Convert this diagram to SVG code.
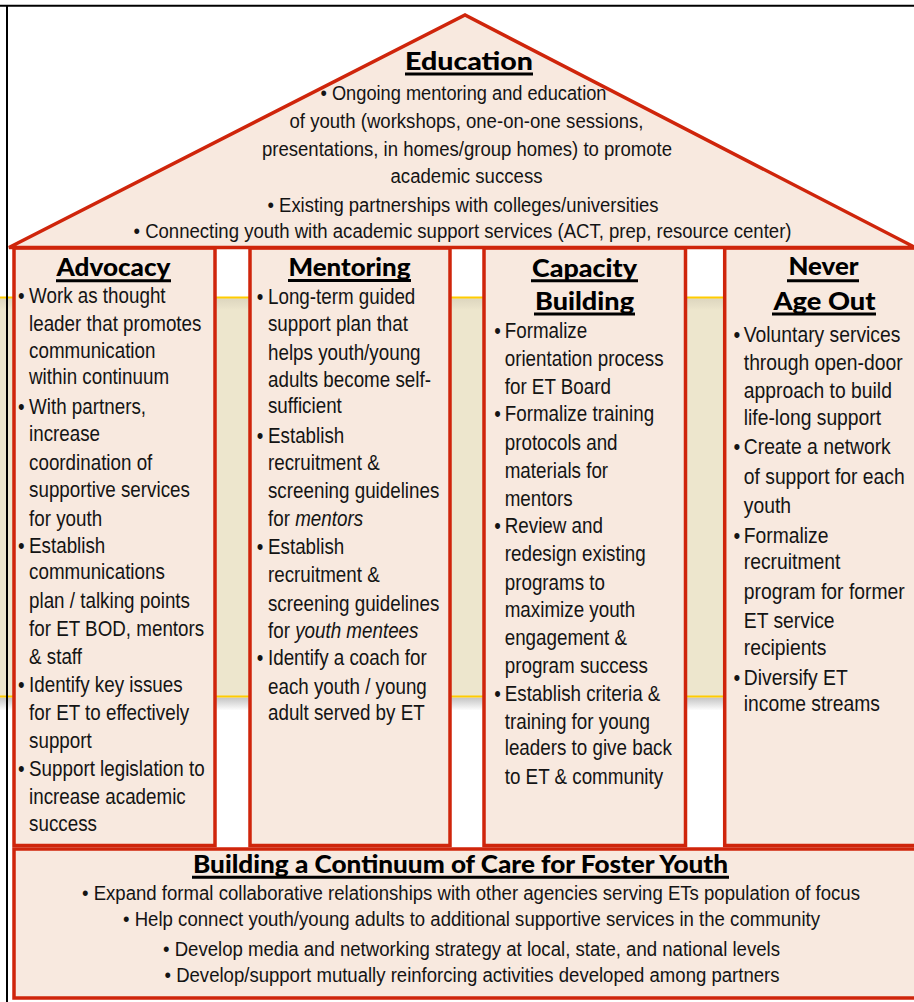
<svg xmlns="http://www.w3.org/2000/svg" width="914" height="1002" viewBox="0 0 914 1002">
<defs>
<linearGradient id="shadow" x1="0" y1="0" x2="0" y2="1">
<stop offset="0" stop-color="#c4c4c4"/>
<stop offset="1" stop-color="#ffffff"/>
</linearGradient>
<linearGradient id="bandTop" x1="0" y1="0" x2="0" y2="1">
<stop offset="0" stop-color="#ddd6bf"/>
<stop offset="1" stop-color="#ede6cd"/>
</linearGradient>
<style>
.box{fill:#f8e9df;stroke:#cf250b;stroke-width:3.5}
.body{font-family:"Liberation Sans",Arial,sans-serif;font-size:22px;fill:#141414}
.roof{font-family:"Liberation Sans",Arial,sans-serif;font-size:20px;fill:#141414;text-anchor:middle}
.foot{font-family:"Liberation Sans",Arial,sans-serif;font-size:19.5px;fill:#141414;text-anchor:middle}
.title{font-family:Lato,"DejaVu Sans",sans-serif;font-weight:900;font-size:25px;fill:#000;text-anchor:middle}
.ul{stroke:#000;stroke-width:3}
.frame{stroke:#000;stroke-width:2;fill:none}
.yl{stroke:#ffcc00;stroke-width:2}
</style>
</defs>
<rect x="0" y="0" width="914" height="1002" fill="#ffffff"/>
<g id="band">
<rect x="0" y="297.5" width="914" height="399" fill="#ede6cd"/>
<rect x="0" y="298.5" width="914" height="12" fill="url(#bandTop)"/>
<rect x="0" y="697.5" width="914" height="13" fill="url(#shadow)"/>
<line class="yl" x1="0" y1="297.5" x2="914" y2="297.5"/>
<line class="yl" x1="0" y1="696.5" x2="914" y2="696.5"/>
</g>
<g id="frame">
<line class="frame" x1="0" y1="5.7" x2="914" y2="5.7"/>
<line class="frame" x1="7" y1="5" x2="7" y2="1002"/>
</g>
<g id="advocacy">
<rect class="box" x="14" y="248" width="201" height="597.5"/>
<text class="title" x="113.5" y="276" textLength="114" lengthAdjust="spacingAndGlyphs">Advocacy</text>
<line class="ul" x1="56" y1="280.7" x2="171" y2="280.7"/>
<g class="body" transform="translate(18,0) scale(0.855,1)">
<text y="303"><tspan x="0">•</tspan><tspan x="12.9">Work as thought</tspan></text>
<text x="12.9" y="331">leader that promotes</text>
<text x="12.9" y="358">communication</text>
<text x="12.9" y="384">within continuum</text>
<text y="414"><tspan x="0">•</tspan><tspan x="12.9">With partners,</tspan></text>
<text x="12.9" y="441">increase</text>
<text x="12.9" y="470">coordination of</text>
<text x="12.9" y="497">supportive services</text>
<text x="12.9" y="526">for youth</text>
<text y="553"><tspan x="0">•</tspan><tspan x="12.9">Establish</tspan></text>
<text x="12.9" y="579">communications</text>
<text x="12.9" y="608">plan / talking points</text>
<text x="12.9" y="636">for ET BOD, mentors</text>
<text x="12.9" y="664">&amp; staff</text>
<text y="692"><tspan x="0">•</tspan><tspan x="12.9">Identify key issues</tspan></text>
<text x="12.9" y="720">for ET to effectively</text>
<text x="12.9" y="748">support</text>
<text y="776"><tspan x="0">•</tspan><tspan x="12.9">Support legislation to</tspan></text>
<text x="12.9" y="804">increase academic</text>
<text x="12.9" y="831">success</text>
</g>
</g>
<g id="mentoring">
<rect class="box" x="250" y="248" width="200" height="597.5"/>
<text class="title" x="349.5" y="275.5" textLength="122" lengthAdjust="spacingAndGlyphs">Mentoring</text>
<line class="ul" x1="288" y1="280.5" x2="411" y2="280.5"/>
<g class="body" transform="translate(256.7,0) scale(0.855,1)">
<text y="304"><tspan x="0">•</tspan><tspan x="13.2">Long-term guided</tspan></text>
<text x="13.2" y="331">support plan that</text>
<text x="13.2" y="360">helps youth/young</text>
<text x="13.2" y="387">adults become self-</text>
<text x="13.2" y="413">sufficient</text>
<text y="443"><tspan x="0">•</tspan><tspan x="13.2">Establish</tspan></text>
<text x="13.2" y="470">recruitment &amp;</text>
<text x="13.2" y="498">screening guidelines</text>
<text x="13.2" y="526">for <tspan font-style="italic">mentors</tspan></text>
<text y="554"><tspan x="0">•</tspan><tspan x="13.2">Establish</tspan></text>
<text x="13.2" y="582">recruitment &amp;</text>
<text x="13.2" y="611">screening guidelines</text>
<text x="13.2" y="638">for <tspan font-style="italic">youth mentees</tspan></text>
<text y="665"><tspan x="0">•</tspan><tspan x="13.2">Identify a coach for</tspan></text>
<text x="13.2" y="694">each youth / young</text>
<text x="13.2" y="720">adult served by ET</text>
</g>
</g>
<g id="capacity-building">
<rect class="box" x="484" y="248" width="201.5" height="597.5"/>
<text class="title" x="584.5" y="276.5" textLength="105" lengthAdjust="spacingAndGlyphs">Capacity</text>
<line class="ul" x1="531" y1="280.7" x2="638" y2="280.7"/>
<text class="title" x="584.5" y="309.5" textLength="99" lengthAdjust="spacingAndGlyphs">Building</text>
<line class="ul" x1="534" y1="314" x2="635" y2="314"/>
<g class="body" transform="translate(494.2,0) scale(0.855,1)">
<text y="338"><tspan x="0">•</tspan><tspan x="12.3">Formalize</tspan></text>
<text x="12.3" y="366">orientation process</text>
<text x="12.3" y="394">for ET Board</text>
<text y="421"><tspan x="0">•</tspan><tspan x="12.3">Formalize training</tspan></text>
<text x="12.3" y="450">protocols and</text>
<text x="12.3" y="478">materials for</text>
<text x="12.3" y="506">mentors</text>
<text y="533"><tspan x="0">•</tspan><tspan x="12.3">Review and</tspan></text>
<text x="12.3" y="561">redesign existing</text>
<text x="12.3" y="590">programs to</text>
<text x="12.3" y="617">maximize youth</text>
<text x="12.3" y="645">engagement &amp;</text>
<text x="12.3" y="673">program success</text>
<text y="701"><tspan x="0">•</tspan><tspan x="12.3">Establish criteria &amp;</tspan></text>
<text x="12.3" y="729">training for young</text>
<text x="12.3" y="755">leaders to give back</text>
<text x="12.3" y="784">to ET &amp; community</text>
</g>
</g>
<g id="never-age-out">
<rect class="box" x="724.7" y="248" width="200" height="597.5"/>
<text class="title" x="823.5" y="275" textLength="70" lengthAdjust="spacingAndGlyphs">Never</text>
<line class="ul" x1="787" y1="280.7" x2="859" y2="280.7"/>
<text class="title" x="824.5" y="309.5" textLength="102" lengthAdjust="spacingAndGlyphs">Age Out</text>
<line class="ul" x1="772" y1="314" x2="876" y2="314"/>
<g class="body" transform="translate(733.5,0) scale(0.878,1)">
<text y="342"><tspan x="0">•</tspan><tspan x="11.7">Voluntary services</tspan></text>
<text x="11.7" y="370">through open-door</text>
<text x="11.7" y="398">approach to build</text>
<text x="11.7" y="425">life-long support</text>
<text y="454"><tspan x="0">•</tspan><tspan x="11.7">Create a network</tspan></text>
<text x="11.7" y="484">of support for each</text>
<text x="11.7" y="513">youth</text>
<text y="543"><tspan x="0">•</tspan><tspan x="11.7">Formalize</tspan></text>
<text x="11.7" y="569">recruitment</text>
<text x="11.7" y="599">program for former</text>
<text x="11.7" y="628">ET service</text>
<text x="11.7" y="655">recipients</text>
<text y="685"><tspan x="0">•</tspan><tspan x="11.7">Diversify ET</tspan></text>
<text x="11.7" y="711">income streams</text>
</g>
</g>
<g id="education">
<polygon class="box" points="9,247.5 465,15 920,250 920,247.5"/>
<text class="title" x="469" y="70" font-size="28" textLength="128" lengthAdjust="spacingAndGlyphs">Education</text>
<line class="ul" x1="405" y1="74" x2="533" y2="74" stroke-width="3.3"/>
<text class="roof" x="463.5" y="100" textLength="286" lengthAdjust="spacingAndGlyphs">• Ongoing mentoring and education</text>
<text class="roof" x="466.5" y="128" textLength="354" lengthAdjust="spacingAndGlyphs">of youth (workshops, one-on-one sessions,</text>
<text class="roof" x="467" y="156" textLength="410" lengthAdjust="spacingAndGlyphs">presentations, in homes/group homes) to promote</text>
<text class="roof" x="466.5" y="183" textLength="152" lengthAdjust="spacingAndGlyphs">academic success</text>
<text class="roof" x="463" y="211.5" textLength="391" lengthAdjust="spacingAndGlyphs">• Existing partnerships with colleges/universities</text>
<text class="roof" x="462.5" y="237.5" textLength="658" lengthAdjust="spacingAndGlyphs">• Connecting youth with academic support services (ACT, prep, resource center)</text>
</g>
<g id="continuum-of-care">
<rect class="box" x="14" y="849" width="906" height="149"/>
<text class="title" x="460.5" y="873.3" font-size="21" textLength="535" lengthAdjust="spacingAndGlyphs">Building a Continuum of Care for Foster Youth</text>
<line class="ul" x1="192" y1="877.2" x2="729" y2="877.2"/>
<text class="foot" x="471" y="900" textLength="778" lengthAdjust="spacingAndGlyphs">• Expand formal collaborative relationships with other agencies serving ETs population of focus</text>
<text class="foot" x="471.5" y="926" textLength="697" lengthAdjust="spacingAndGlyphs">• Help connect youth/young adults to additional supportive services in the community</text>
<text class="foot" x="471.5" y="956" textLength="617" lengthAdjust="spacingAndGlyphs">• Develop media and networking strategy at local, state, and national levels</text>
<text class="foot" x="472" y="982" textLength="615" lengthAdjust="spacingAndGlyphs">• Develop/support mutually reinforcing activities developed among partners</text>
</g>
</svg>
